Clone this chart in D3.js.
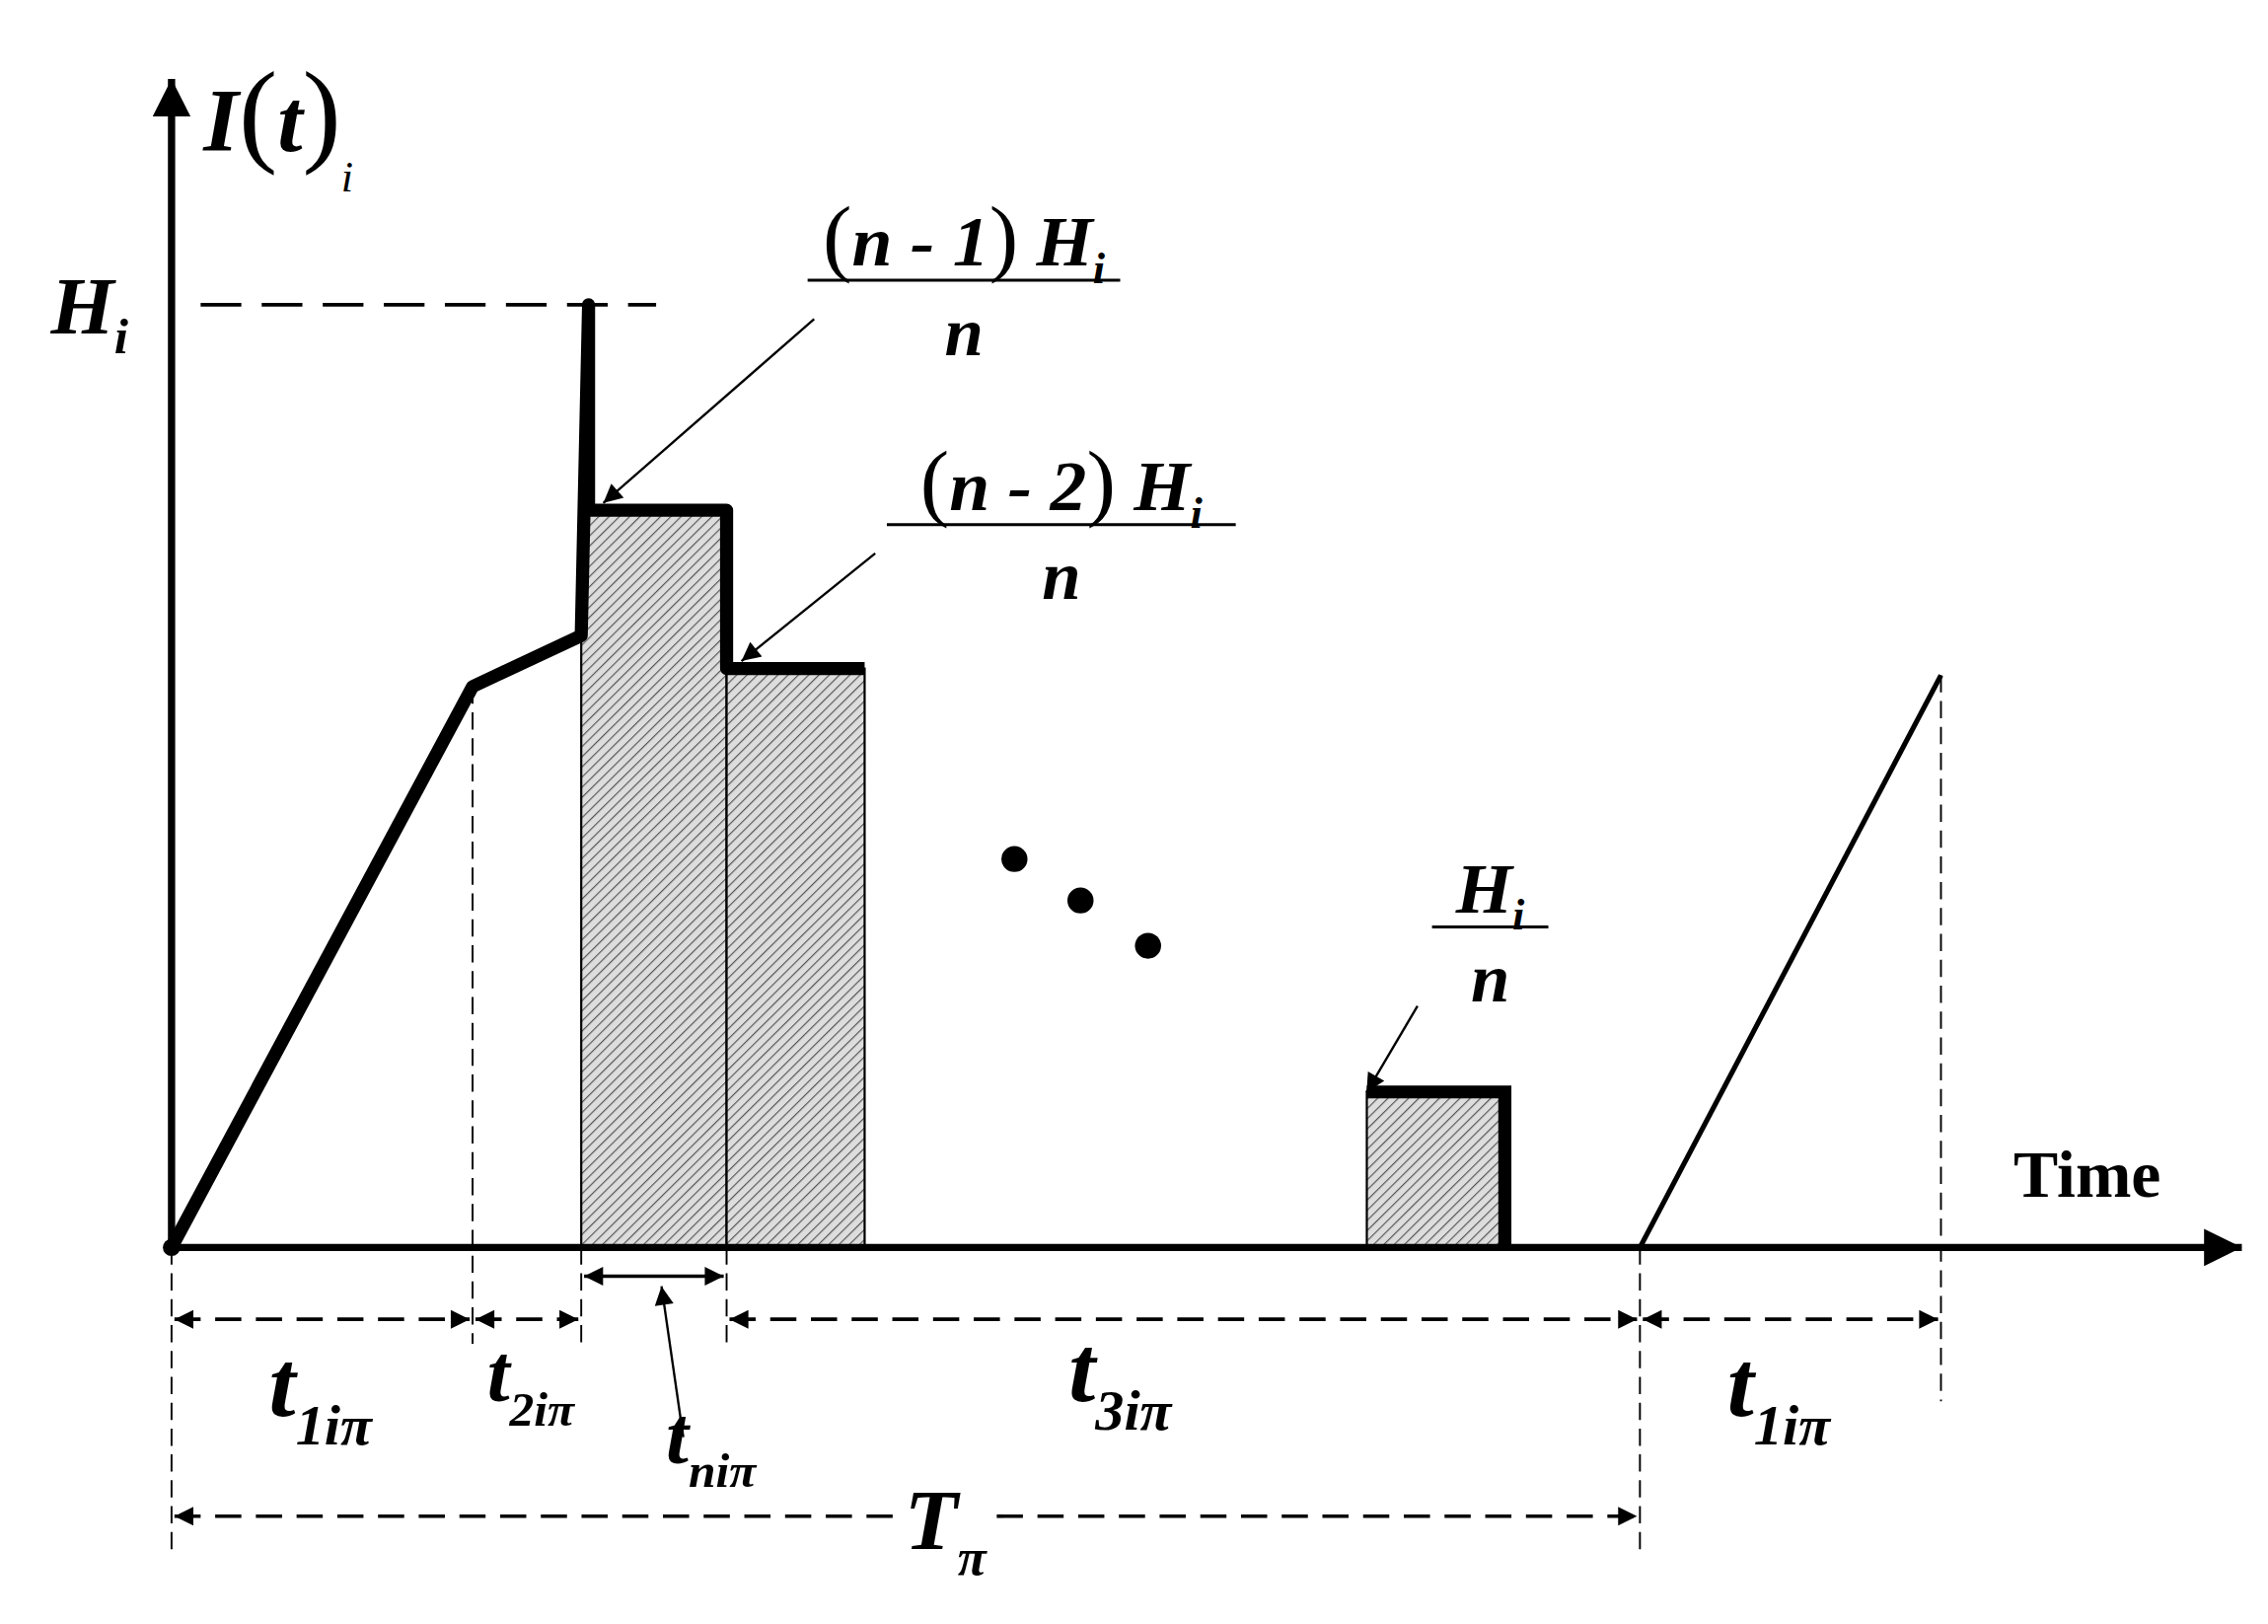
<html>
<head>
<meta charset="utf-8">
<script src="https://d3js.org/d3.v7.min.js"></script>
<style>body{margin:0;background:#fff}text{font-family:"Liberation Serif",serif;font-weight:bold;fill:#000}</style>
</head>
<body>
<svg width="2299" height="1646" viewBox="0 0 1560 1130" preserveAspectRatio="none"></svg>
<script>
// time in units of T_pi = 100, current in units of H_i = 1
var rampPts = [[0,0],[20.5,0.595],[27.9,0.649],[28.4,1.0],[28.4,0.782],[37.8,0.782],[37.8,0.614],[47.2,0.614]];
var bars = [{x0:27.9,x1:37.8,h:0.782},{x0:37.8,x1:47.2,h:0.614},{x0:81.4,x1:90.6,h:0.165}];
var lastBar = [[81.4,0.165],[90.8,0.165],[90.8,0]];
var ramp2 = [[100,0],[120.5,0.607]];
var dots = [[57.4,0.412],[61.9,0.368],[66.5,0.320]];
var marks = [0,20.5,27.9,37.8,100,120.5];
var dims = [[0,20.5,1],[20.5,27.9,1],[37.8,100,1],[100,120.5,1],[0,49.5,2],[56,100,2]];

var svg = d3.select("svg");
var x = d3.scaleLinear().domain([0,100]).range([118,1128]);
var y = d3.scaleLinear().domain([0,1]).range([868,212]);
var line = d3.line().x(d=>x(d[0])).y(d=>y(d[1]));
var yDim = {1:918, 2:1055};

var defs = svg.append("defs");
var pat = defs.append("pattern").attr("id","hatch").attr("width",5).attr("height",5)
  .attr("patternUnits","userSpaceOnUse").attr("patternTransform","rotate(45)");
pat.append("rect").attr("width",5).attr("height",5).attr("fill","#ddd");
pat.append("line").attr("x1",0).attr("y1",0).attr("x2",0).attr("y2",5).attr("stroke","#555").attr("stroke-width",1.6);
function marker(id, w, h){
  defs.append("marker").attr("id",id).attr("viewBox","0 0 10 10").attr("refX",10).attr("refY",5)
    .attr("markerUnits","userSpaceOnUse").attr("orient","auto-start-reverse")
    .attr("markerWidth",w).attr("markerHeight",h)
    .append("path").attr("d","M0,0L10,5L0,10z").attr("fill","#000");
}
marker("ar",18,13);
marker("big",36,26);

// hatched bars
svg.selectAll(".bar").data(bars).enter().append("rect")
  .attr("x",d=>x(d.x0)).attr("width",d=>x(d.x1)-x(d.x0))
  .attr("y",d=>y(d.h)).attr("height",d=>y(0)-y(d.h))
  .attr("fill","url(#hatch)").attr("stroke","#000").attr("stroke-width",1.5);

// dashed guides
svg.append("line").attr("x1",x(0)+20).attr("x2",x(33)).attr("y1",y(1)).attr("y2",y(1))
  .attr("stroke","#000").attr("stroke-width",2.5).attr("stroke-dasharray","28,14");
var guideTop = {20.5:0.595,37.8:0,100:0,120.5:0.607,27.9:0,0:0};
var guideBot = {0:1080,20.5:935,27.9:935,37.8:935,100:1080,120.5:975};
marks.forEach(function(m){
  svg.append("line").attr("x1",x(m)).attr("x2",x(m)).attr("y1",y(guideTop[m])).attr("y2",guideBot[m])
    .attr("stroke","#000").attr("stroke-width",1.3).attr("stroke-dasharray","12,6");
});

// dimension arrows
dims.forEach(function(d){
  svg.append("line").attr("x1",x(d[0])+2).attr("x2",x(d[1])-2).attr("y1",yDim[d[2]]).attr("y2",yDim[d[2]])
    .attr("stroke","#000").attr("stroke-width",2.5).attr("stroke-dasharray","18,10")
    .attr("marker-start",d[0]===0||d[2]===1?"url(#ar)":null)
    .attr("marker-end",d[1]===49.5?null:"url(#ar)");
});
svg.append("line").attr("x1",x(27.9)+2).attr("x2",x(37.8)-2).attr("y1",888).attr("y2",888)
  .attr("stroke","#000").attr("stroke-width",2.5).attr("marker-start","url(#ar)").attr("marker-end","url(#ar)");

// axes
svg.append("line").attr("x1",x(0)).attr("x2",1542).attr("y1",y(0)).attr("y2",y(0))
  .attr("stroke","#000").attr("stroke-width",5).attr("marker-end","url(#big)");
svg.append("line").attr("x1",x(0)).attr("x2",x(0)).attr("y1",y(0)).attr("y2",55)
  .attr("stroke","#000").attr("stroke-width",5).attr("marker-end","url(#big)");

// curves
svg.append("path").attr("d",line(rampPts)).attr("fill","none").attr("stroke","#000").attr("stroke-width",9).attr("stroke-linejoin","round");
svg.append("path").attr("d",line(lastBar)).attr("fill","none").attr("stroke","#000").attr("stroke-width",9);
svg.append("path").attr("d",line(ramp2)).attr("fill","none").attr("stroke","#000").attr("stroke-width",3.5);
svg.append("circle").attr("cx",x(0)).attr("cy",y(0)).attr("r",6);
svg.selectAll(".dot").data(dots).enter().append("circle").attr("cx",d=>x(d[0])).attr("cy",d=>y(d[1])).attr("r",9);

// leader arrows
[[560,222,415,350],[602,385,510,460],[975,700,940,760],[470,1000,455,895]].forEach(function(a){
  svg.append("line").attr("x1",a[0]).attr("y1",a[1]).attr("x2",a[2]).attr("y2",a[3])
    .attr("stroke","#000").attr("stroke-width",1.6).attr("marker-end","url(#ar)");
});

// text
function sub(xx, yy, size, main, s){
  var tx = svg.append("text").attr("x",xx).attr("y",yy).attr("font-size",size).attr("font-style","italic");
  tx.append("tspan").text(main);
  tx.append("tspan").attr("dy",size*0.25).attr("font-size",size*0.62).text(s);
}
var it = svg.append("text").attr("x",140).attr("y",105).attr("font-size",62).attr("font-style","italic");
it.append("tspan").text("I");
it.append("tspan").attr("font-style","normal").attr("font-weight","normal").attr("font-size",80).text("(");
it.append("tspan").text("t");
it.append("tspan").attr("font-style","normal").attr("font-weight","normal").attr("font-size",80).text(")");
it.append("tspan").attr("dy",28).attr("font-size",30).attr("font-weight","normal").text("i");
sub(35,232,56,"H","i");
function frac(cx, yn, num, w){
  var t = svg.append("text").attr("x",cx).attr("y",yn).attr("text-anchor","middle").attr("font-size",50).attr("font-style","italic");
  num(t);
  svg.append("line").attr("x1",cx-w/2).attr("x2",cx+w/2).attr("y1",yn+10).attr("y2",yn+10).attr("stroke","#000").attr("stroke-width",2);
  svg.append("text").attr("x",cx).attr("y",yn+62).attr("text-anchor","middle").attr("font-size",48).attr("font-style","italic").text("n");
}
function nk(k){ return function(t){
  t.append("tspan").attr("font-style","normal").attr("font-weight","normal").attr("font-size",60).text("(");
  t.append("tspan").text("n - "+k);
  t.append("tspan").attr("font-style","normal").attr("font-weight","normal").attr("font-size",60).text(")");
  t.append("tspan").text(" H");
  t.append("tspan").attr("dy",12).attr("font-size",30).text("i");
};}
frac(663,185,nk(1),215);
frac(730,355,nk(2),240);
frac(1025,635,function(t){t.append("tspan").text("H");t.append("tspan").attr("dy",12).attr("font-size",30).text("i");},80);
svg.append("text").attr("x",1385).attr("y",833).attr("font-size",46).text("Time");
function tl(xx,yy,size,m,s){
  var t = svg.append("text").attr("x",xx).attr("y",yy).attr("font-size",size).attr("font-style","italic").text(m);
  t.append("tspan").attr("dy",size*0.3).attr("font-size",size*0.6).text(s);
}
tl(185,985,66,"t","1iπ");
tl(335,975,56,"t","2iπ");
tl(458,1018,56,"t","niπ");
tl(735,975,66,"t","3iπ");
tl(1188,985,66,"t","1iπ");
tl(622,1078,60,"T","π");
</script>
</body>
</html>
